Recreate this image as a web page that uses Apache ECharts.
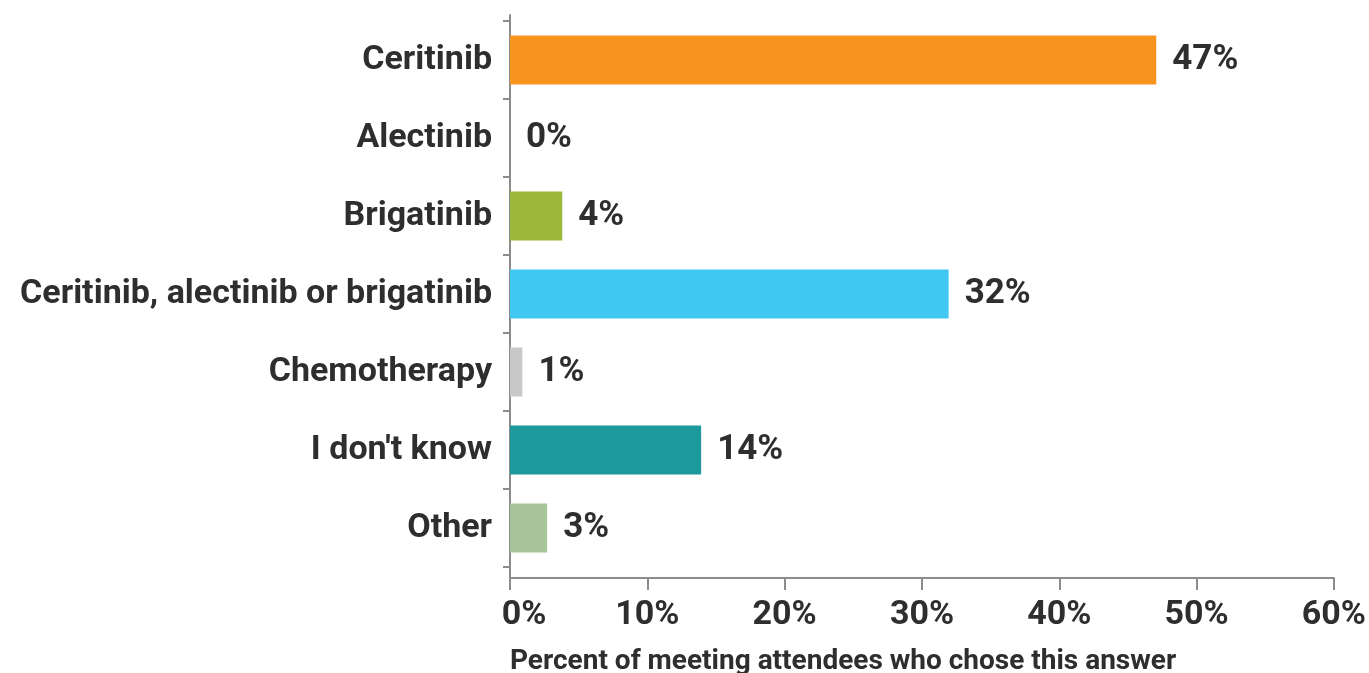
<!DOCTYPE html>
<html>
<head>
<meta charset="utf-8">
<script src="https://cdn.jsdelivr.net/npm/echarts@6/dist/echarts.min.js"></script>
<style>
html,body{margin:0;padding:0;background:#fff;}
#chart{width:1369px;height:673px;}
</style>
</head>
<body>
<div id="chart"></div>
<script>
const categories = ['Ceritinib', 'Alectinib', 'Brigatinib', 'Ceritinib, alectinib or brigatinib', 'Chemotherapy', "I don't know", 'Other'];
const values = [47, 0, 3.8, 31.9, 0.9, 13.9, 2.7];
const barColors = ['#F7941E', '#9E9E9E', '#9BB83B', '#41C8F2', '#C8C8C8', '#1C9A9B', '#A6C39A'];
const xTicks = { min: 0, max: 60, interval: 10 };
const axisTitle = 'Percent of meeting attendees who chose this answer';

const FONT = "Roboto, 'Liberation Sans', sans-serif";
const TEXT = '#2e2e2e';
const AXIS = '#8c8c8c';

const chart = echarts.init(document.getElementById('chart'), null, { renderer: 'canvas' });
chart.setOption({
  animation: false,
  backgroundColor: '#fff',
  title: {
    text: axisTitle,
    left: 505,
    top: 643,
    textStyle: { fontFamily: FONT, fontSize: 28, fontWeight: 'bold', color: TEXT }
  },
  grid: [
    { left: 510, right: 34, top: 15, bottom: 95 },
    { left: 510, right: 34, top: 21, bottom: 106 }
  ],
  xAxis: [
    {
      gridIndex: 0, type: 'value', min: xTicks.min, max: xTicks.max, interval: xTicks.interval,
      axisLine: { show: true, lineStyle: { color: AXIS, width: 2 } },
      axisTick: { show: true, length: 12, lineStyle: { color: AXIS, width: 2 } },
      splitLine: { show: false },
      axisLabel: {
        formatter: v => v === 0 ? '{first|0%}' : v + '%',
        rich: { first: { padding: [0, 0, 0, 28], fontFamily: FONT, fontSize: 34, fontWeight: 'bold', color: TEXT } },
        fontFamily: FONT, fontSize: 34, fontWeight: 'bold', color: TEXT, margin: 20
      }
    },
    { gridIndex: 1, type: 'value', min: xTicks.min, max: xTicks.max, show: false }
  ],
  yAxis: [
    {
      gridIndex: 0, type: 'value', min: 0, max: 1,
      axisLine: { show: true, lineStyle: { color: AXIS, width: 2 } },
      axisTick: { show: false }, axisLabel: { show: false }, splitLine: { show: false }
    },
    {
      gridIndex: 1, type: 'category', inverse: true, data: categories,
      axisLine: { show: false },
      axisTick: { show: true, length: 7, lineStyle: { color: AXIS, width: 2 } },
      axisLabel: { fontFamily: FONT, fontSize: 34, fontWeight: 'bold', color: TEXT, margin: 18 }
    }
  ],
  series: [{
    type: 'bar',
    xAxisIndex: 1, yAxisIndex: 1,
    barWidth: 49,
    data: values.map((v, i) => ({ value: v, itemStyle: { color: barColors[i] } })),
    label: {
      show: true, position: 'right', distance: 16,
      formatter: p => Math.round(p.value) + '%',
      fontFamily: FONT, fontSize: 35, fontWeight: 'bold', color: TEXT
    }
  }]
});
</script>
</body>
</html>
